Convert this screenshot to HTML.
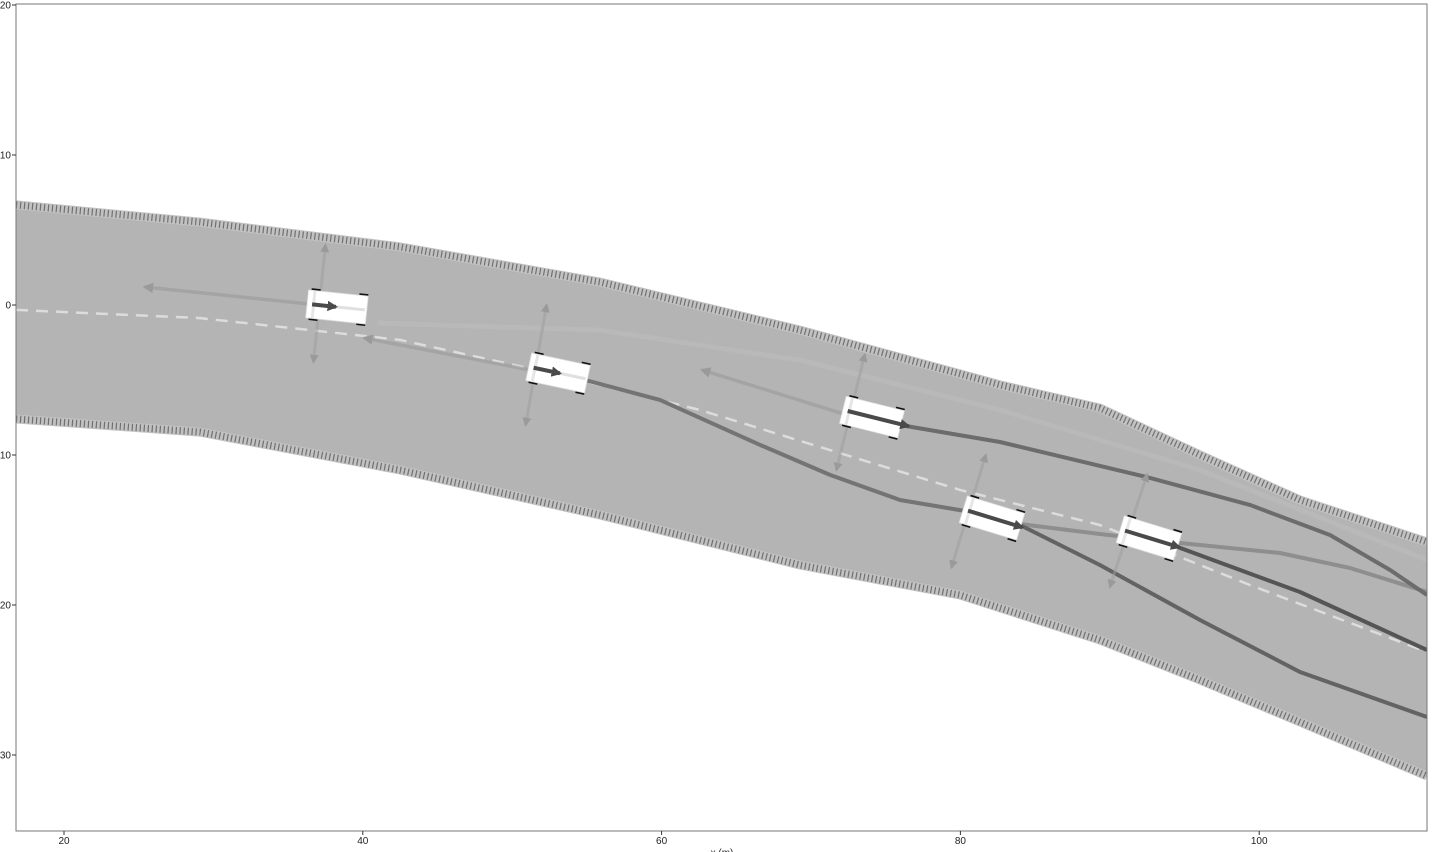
<!DOCTYPE html>
<html><head><meta charset="utf-8"><style>
html,body{margin:0;padding:0;background:#fff;}
svg{display:block;font-family:"Liberation Sans",sans-serif;}
</style></head><body>
<svg id="chart" width="1433" height="852" viewBox="0 0 1433 852" xmlns="http://www.w3.org/2000/svg">
<defs>
<clipPath id="plotclip"><rect x="16" y="4" width="1411" height="827"/></clipPath>
<marker id="ah" viewBox="0 0 10 10" refX="8" refY="5" markerWidth="3" markerHeight="3" orient="auto-start-reverse"><path d="M0,0 L10,5 L0,10 z" fill="#9a9a9a"/></marker>
<marker id="ahd" viewBox="0 0 10 10" refX="8" refY="5" markerWidth="2.6" markerHeight="2.6" orient="auto"><path d="M0,0 L10,5 L0,10 z" fill="#4a4a4a"/></marker>
</defs>
<g id="plot" clip-path="url(#plotclip)"></g>
<rect x="16" y="4" width="1411" height="827" fill="none" stroke="#777" stroke-width="1"/>
<g id="axes"></g>
</svg>
<script>
// data (metres)
const xTicks=[20,40,60,80,100];
const yTicks=[-20,-10,0,10,20,30];
const upperX=[16.79,29.10,42.49,55.88,69.26,82.65,89.34,96.04,102.73,111.23];
const upperY=[-6.67,-5.53,-3.87,-1.53,1.67,5.33,6.87,10,13,15.8];
const lowerX=[16.79,29.10,42.49,55.88,69.26,79.97,89.34,96.04,102.73,111.23];
const lowerY=[7.6,8.47,11,14,17.33,19.33,22.33,25,27.8,31.4];
const centerX=[16.79,29.10,42.49,53.2,62.57,71.27,79.97,89.34,99.38,111.23];
const centerY=[0.33,0.87,2.33,4.67,7,9.67,12.33,14.67,18.67,23.13];
const carX=[38.27,53.07,74.08,82.11,92.62];
const carY=[0.13,4.53,7.47,14.2,15.53];
const carHeading=[6,12,14,17,17];
const traj1X=[54.87,59.89,66.59,71.27,75.96,79.97,83.99];
const traj1Y=[5,6.33,9.33,11.33,13,13.67,14.47];
const traj2X=[83.99,89.34,96.04,102.73,111.23];
const traj2Y=[14.67,17.33,21,24.47,27.47];
const traj3X=[75.96,82.65,92.69,99.38,104.74,108.76,111.23];
const traj3Y=[8,9.13,11.53,13.33,15.33,17.67,19.33];
const traj4X=[94.36,102.73,111.23];
const traj4Y=[16.07,19.13,23];
const traj5X=[83.99,89.34,94.7,101.39,106.08,111.23];
const traj5Y=[14.6,15.27,15.87,16.53,17.53,19.13];
const faintX=[41,55.88,69.26,82.65,96.04,111.23];
const faintY=[1.2,1.67,3.67,7,11,17];
const backTipX=[25.4,40.1,62.7];
const backTipY=[-1.2,2.2,4.33];
const latTopX=[37.5,52.3,73.6,81.7,92.5];
const latTopY=[-4,0,3.3,10,11.3];
const latBotX=[36.7,50.9,71.7,79.4,90];
const latBotY=[3.8,8,11,17.5,18.8];
const fwdLen=[1.6,1.8,4.2,3.8,3.8];

const X0=64,XS=14.94,Y0=305,YS=15;
const sx=v=>X0+(v-20)*XS;
const sy=v=>Y0+v*YS;
const NS="http://www.w3.org/2000/svg";
const plot=document.getElementById('plot');
const axes=document.getElementById('axes');
function mk(tag,attrs,parent){const e=document.createElementNS(NS,tag);for(const k in attrs)e.setAttribute(k,attrs[k]);(parent||plot).appendChild(e);return e;}
function pts(xs,ys){return xs.map((x,i)=>sx(x).toFixed(1)+','+sy(ys[i]).toFixed(1)).join(' ');}

// road
let road=mk('polygon',{points:pts(upperX,upperY)+' '+pts(lowerX.slice().reverse(),lowerY.slice().reverse()),fill:'#b4b4b4'});


[[upperX,upperY,'road-upper-edge'],[lowerX,lowerY,'road-lower-edge']].forEach(([xs,ys,n])=>{
  let b=mk('polyline',{points:pts(xs,ys),fill:'none',stroke:'#c2c2c2','stroke-width':9,'stroke-linejoin':'round'});
  
  
  let h=mk('polyline',{points:pts(xs,ys),fill:'none',stroke:'#707070','stroke-width':7,'stroke-dasharray':'1.2 2.8'});
  
  
});
let cl=mk('polyline',{points:pts(centerX,centerY),fill:'none',stroke:'#dcdcdc','stroke-width':2.5,'stroke-dasharray':'12 8'});



let fl=mk('polyline',{points:pts(faintX,faintY),fill:'none',stroke:'#bdbdbd','stroke-width':5,'stroke-opacity':0.5,'stroke-linejoin':'round'});



const trajs=[[traj5X,traj5Y,'#8e8e8e',4],[traj1X,traj1Y,'#747474',4],[traj3X,traj3Y,'#6c6c6c',4],[traj2X,traj2Y,'#636363',4],[traj4X,traj4Y,'#555',4]];
trajs.forEach((t,i)=>{
  let p=mk('polyline',{points:pts(t[0],t[1]),fill:'none',stroke:t[2],'stroke-width':t[3],'stroke-linejoin':'round'});
  
  
});

// back arrows
backTipX.forEach((bx,i)=>{
  let a=mk('line',{x1:sx(carX[i])-28,y1:sy(carY[i])-3,x2:sx(bx),y2:sy(backTipY[i]),stroke:'#9a9a9a','stroke-width':3.5,'stroke-opacity':0.6,'marker-end':'url(#ah)'});
  
  
});
// lateral arrows
latTopX.forEach((tx,i)=>{
  let a=mk('line',{x1:sx(latBotX[i]),y1:sy(latBotY[i]),x2:sx(tx),y2:sy(latTopY[i]),stroke:'#9e9e9e','stroke-width':3,'stroke-opacity':0.55,'marker-start':'url(#ah)','marker-end':'url(#ah)'});
  
  
});
// cars
carX.forEach((cx,i)=>{
  const g=mk('g',{transform:`translate(${sx(cx)},${sy(carY[i])}) rotate(${carHeading[i]})`});
  
  
  [[-27,-16],[21,-16],[-27,13],[21,13]].forEach(w=>mk('rect',{x:w[0],y:w[1],width:9,height:3,fill:'#111'},g));
  mk('rect',{x:-30,y:-14,width:60,height:28,fill:'#fff',stroke:'#ddd','stroke-width':0.8},g);
  mk('rect',{x:-25,y:-14,width:3,height:28,fill:'#e6e6e6'},g);
  mk('line',{x1:-24,y1:0,x2:28,y2:0,stroke:'#e0e0e0','stroke-width':3},g);
  const L=fwdLen[i]*XS;
  mk('line',{x1:-25,y1:0,x2:-25+L,y2:0,stroke:'#4a4a4a','stroke-width':4,'marker-end':'url(#ahd)'},g);
});

// axes
xTicks.forEach(t=>{
  let l=mk('line',{x1:sx(t),y1:831,x2:sx(t),y2:835,stroke:'#333'},axes);
  
  
  let tx=mk('text',{x:sx(t),y:844,'font-size':10,'text-anchor':'middle',fill:'#222'},axes);
  tx.textContent=t;
  
  
});
yTicks.forEach(t=>{
  let l=mk('line',{x1:12,y1:sy(t),x2:16,y2:sy(t),stroke:'#333'},axes);
  
  
  let tx=mk('text',{x:11,y:sy(t)+3.5,'font-size':10,'text-anchor':'end',fill:'#222'},axes);
  tx.textContent=Math.abs(t);
  
  
});
let xt=mk('text',{x:722,y:856,'font-size':10,'text-anchor':'middle',fill:'#222'},axes);
xt.textContent='x (m)';


</script>
</body></html>
